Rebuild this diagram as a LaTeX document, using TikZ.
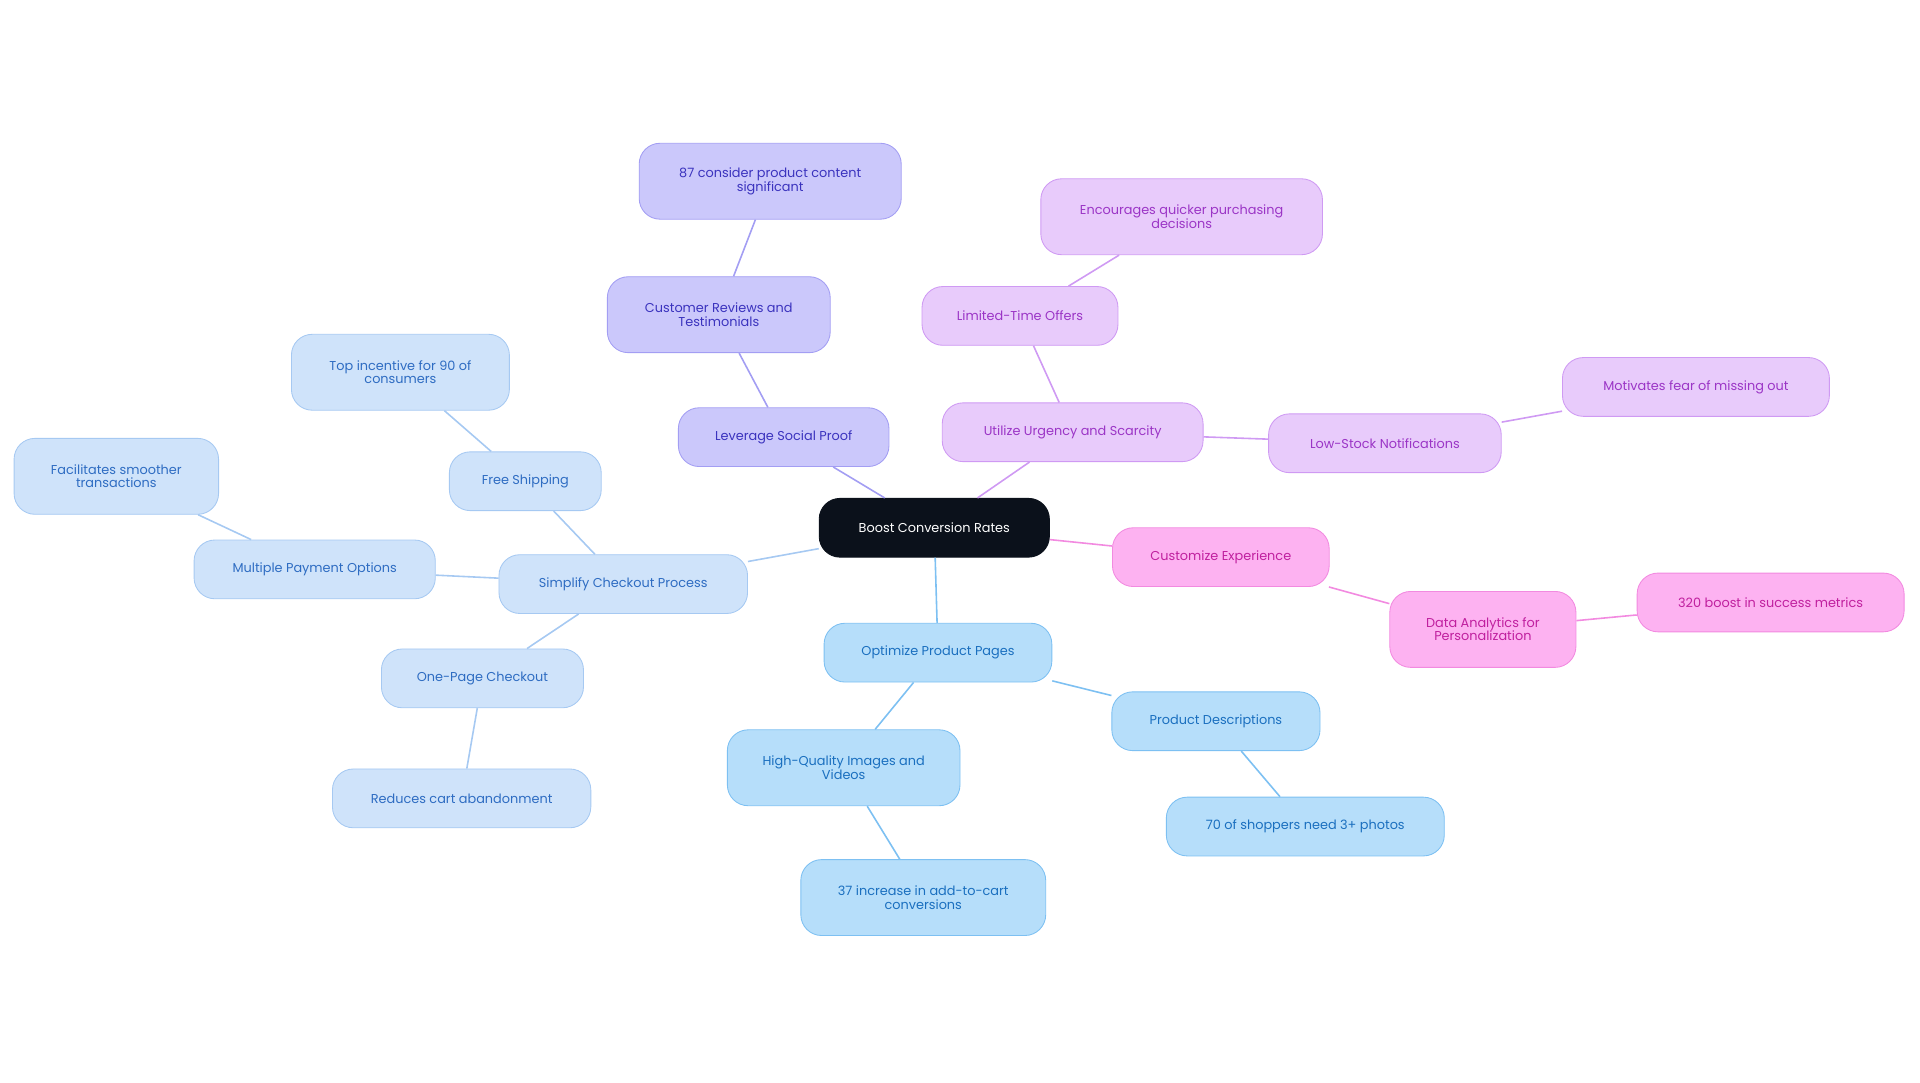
\documentclass[tikz,border=0pt]{standalone}
\usepackage{fontspec}
\setmainfont{Poppins}
\definecolor{rootc}{HTML}{0B111B}
\definecolor{indf}{HTML}{CBC8FB}\definecolor{indd}{HTML}{A39EF3}\definecolor{indt}{HTML}{3B33BE}
\definecolor{purf}{HTML}{E8CBFB}\definecolor{purd}{HTML}{CF9AF3}\definecolor{purt}{HTML}{9B35C6}
\definecolor{pinf}{HTML}{FDB2F1}\definecolor{pind}{HTML}{F28AE0}\definecolor{pint}{HTML}{C0209F}
\definecolor{bluf}{HTML}{B6DEFA}\definecolor{blud}{HTML}{7DC0F2}\definecolor{blut}{HTML}{1A6FBF}
\definecolor{lbf}{HTML}{CFE3FA}\definecolor{lbd}{HTML}{A6C9F2}\definecolor{lbt}{HTML}{2E6CC2}
\tikzset{
 box/.style={rectangle,rounded corners=17pt,draw,line width=0.7pt,align=center,font=\fontsize{10.5}{11}\selectfont,inner sep=2pt},
 ind/.style={box,fill=indf,draw=indd,text=indt},
 pur/.style={box,fill=purf,draw=purd,text=purt},
 pin/.style={box,fill=pinf,draw=pind,text=pint},
 blu/.style={box,fill=bluf,draw=blud,text=blut},
 lb/.style={box,fill=lbf,draw=lbd,text=lbt},
 ei/.style={draw=indd,line width=1.3pt},
 ep/.style={draw=purd,line width=1.3pt},
 en/.style={draw=pind,line width=1.3pt},
 eb/.style={draw=blud,line width=1.3pt},
 el/.style={draw=lbd,line width=1.3pt},
}
\newcommand{\bx}[6]{\node[#1,minimum width=#4pt,minimum height=#5pt] (#6) at (#2pt,-#3pt)}
\begin{document}
\begin{tikzpicture}
\useasboundingbox (0,0) rectangle (1568pt,-884pt);
\bx{box}{763}{431}{188}{48}{root} [fill=rootc,draw=rootc,text=white] {Boost Conversion Rates};
\bx{ind}{640}{357}{172}{48}{lsp} {Leverage Social Proof};
\bx{ind}{587}{257}{182}{62}{crt} {Customer Reviews and\\Testimonials};
\bx{ind}{629}{148}{214}{62}{c87} {87 consider product content\\significant};
\bx{pur}{876}{353}{213}{48}{uus} {Utilize Urgency and Scarcity};
\bx{pur}{833}{258}{160}{48}{lto} {Limited-Time Offers};
\bx{pur}{965}{177}{230}{62}{enc} {Encourages quicker purchasing\\decisions};
\bx{pur}{1131}{362}{190}{48}{lsn} {Low-Stock Notifications};
\bx{pur}{1385}{316}{218}{48}{mot} {Motivates fear of missing out};
\bx{pin}{997}{455}{177}{48}{cex} {Customize Experience};
\bx{pin}{1211}{514}{152}{62}{dap} {Data Analytics for\\Personalization};
\bx{pin}{1446}{492}{218}{48}{b320} {320 boost in success metrics};
\bx{blu}{766}{533}{186}{48}{opp} {Optimize Product Pages};
\bx{blu}{993}{589}{170}{48}{pd} {Product Descriptions};
\bx{blu}{1066}{675}{227}{48}{s70} {70 of shoppers need 3+ photos};
\bx{blu}{689}{627}{190}{62}{hqi} {High-Quality Images and\\Videos};
\bx{blu}{754}{733}{200}{62}{i37} {37 increase in add-to-cart\\conversions};
\bx{lb}{509}{477}{203}{48}{scp} {Simplify Checkout Process};
\bx{lb}{429}{393}{124}{48}{fs} {Free Shipping};
\bx{lb}{327}{304}{178}{62}{ti} {Top incentive for 90 of\\consumers};
\bx{lb}{257}{465}{197}{48}{mpo} {Multiple Payment Options};
\bx{lb}{95}{389}{167}{62}{fac} {Facilitates smoother\\transactions};
\bx{lb}{394}{554}{165}{48}{opc} {One-Page Checkout};
\bx{lb}{377}{652}{211}{48}{rca} {Reduces cart abandonment};
\begin{scope}[on background layer/.style={}]
\end{scope}
\path[ei] (root) -- (lsp) (lsp) -- (crt) (crt) -- (c87);
\path[ep] (root) -- (uus) (uus) -- (lto) (lto) -- (enc) (uus) -- (lsn) (lsn) -- (mot);
\path[en] (root) -- (cex) (cex) -- (dap) (dap) -- (b320);
\path[eb] (root) -- (opp) (opp) -- (pd) (pd) -- (s70) (opp) -- (hqi) (hqi) -- (i37);
\path[el] (root) -- (scp) (scp) -- (fs) (fs) -- (ti) (scp) -- (mpo) (mpo) -- (fac) (scp) -- (opc) (opc) -- (rca);
\end{tikzpicture}
\end{document}
